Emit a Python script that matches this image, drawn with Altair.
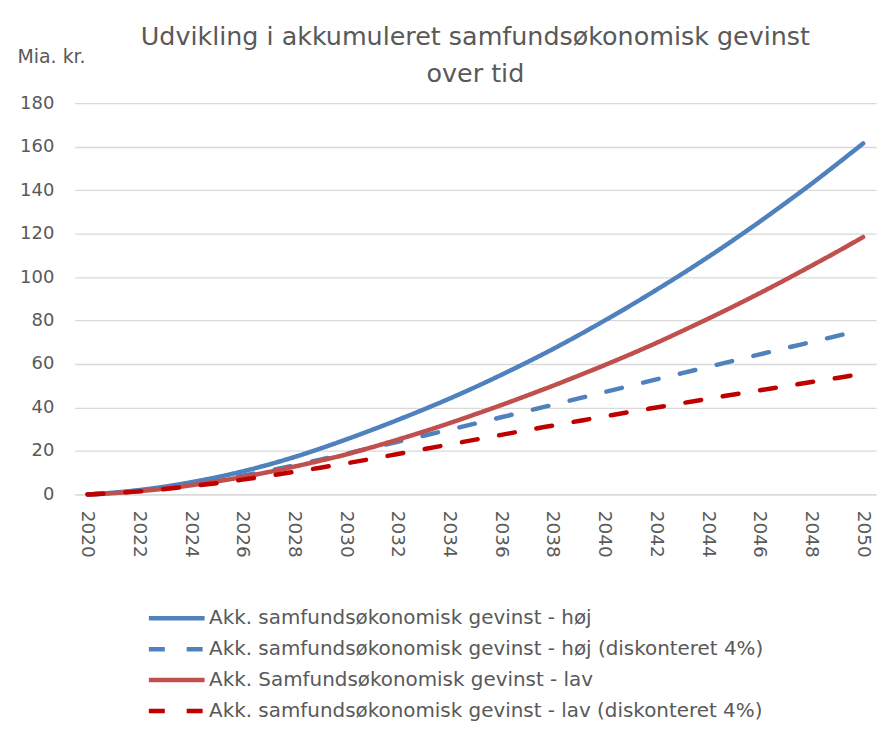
import altair as alt
import pandas as pd

years = list(range(2020, 2051))

hoej = [0, 0.8, 2.0, 3.6, 5.6, 7.9, 10.6, 13.7, 17.2, 21.1, 25.3,
        29.7, 34.3, 39.1, 44.1, 49.4, 55.0, 60.8, 66.9, 73.3, 80.0,
        86.9, 94.1, 101.5, 109.2, 117.2, 125.5, 134.1, 142.9, 152.1, 161.5]

hoej_disk = [0, 0.74, 1.80, 3.17, 4.81, 6.62, 8.67, 10.93, 13.39, 16.02, 18.75,
             21.49, 24.26, 27.02, 29.80, 32.62, 35.49, 38.35, 41.24, 44.16, 47.10,
             50.01, 52.92, 55.80, 58.68, 61.56, 64.44, 67.31, 70.12, 72.95, 75.73]

lav = [0, 0.6, 1.5, 2.7, 4.2, 6.0, 8.0, 10.3, 12.8, 15.5, 18.4,
       21.7, 25.2, 28.9, 32.8, 36.9, 41.1, 45.5, 50.0, 54.7, 59.5,
       64.5, 69.7, 75.2, 80.8, 86.6, 92.6, 98.8, 105.2, 111.7, 118.4]

lav_disk = [0, 0.6, 1.4, 2.5, 3.8, 5.2, 6.8, 8.6, 10.4, 12.3, 14.3,
            16.4, 18.6, 20.8, 23.0, 25.2, 27.4, 29.6, 31.7, 33.8, 35.9,
            38.0, 40.0, 42.0, 44.0, 46.0, 47.9, 49.8, 51.7, 53.6, 55.5]

series_names = [
    "Akk. samfundsøkonomisk gevinst - høj",
    "Akk. samfundsøkonomisk gevinst - høj (diskonteret 4%)",
    "Akk. Samfundsøkonomisk gevinst - lav",
    "Akk. samfundsøkonomisk gevinst - lav (diskonteret 4%)",
]
series_values = [hoej, hoej_disk, lav, lav_disk]
colors = ["#4F81BD", "#4F81BD", "#C0504D", "#C00000"]
dashes = [[1, 0], [16, 22], [1, 0], [16, 22]]

rows = []
for name, vals in zip(series_names, series_values):
    for yr, v in zip(years, vals):
        rows.append({"year": yr, "value": v, "series": name})
df = pd.DataFrame(rows)

FONT = "DejaVu Sans"
GREY = "#595959"

x_enc = alt.X("year:Q",
              scale=alt.Scale(domain=[2019.5, 2050.5], nice=False, zero=False),
              axis=alt.Axis(values=list(range(2020, 2051, 2)), format="d",
                            labelAngle=90, labelFontSize=18.5, labelColor=GREY,
                            labelFont=FONT, labelPadding=16, grid=False,
                            ticks=False, domain=True, domainColor="#D9D9D9",
                            domainWidth=1.3, title=None))
y_enc = alt.Y("value:Q",
              scale=alt.Scale(domain=[0, 180], nice=False),
              axis=alt.Axis(values=list(range(0, 181, 20)), labelFontSize=18,
                            labelColor=GREY, labelFont=FONT, labelPadding=21,
                            grid=True, gridColor="#D9D9D9", gridWidth=1.3,
                            ticks=False, domain=False,
                            title="Mia. kr.", titleAngle=0, titleAlign="left",
                            titleBaseline="middle", titleX=-58, titleY=-47,
                            titleFont=FONT, titleFontSize=19,
                            titleFontWeight="normal", titleColor=GREY))
color_enc = alt.Color("series:N",
                      scale=alt.Scale(domain=series_names, range=colors),
                      legend=alt.Legend(title=None, orient="none",
                                        legendX=86, legendY=501,
                                        direction="vertical",
                                        symbolType="M-2,0H2", symbolSize=784,
                                        symbolStrokeWidth=4.5,
                                        symbolFillColor="transparent",
                                        labelFontSize=20, labelColor=GREY,
                                        labelFont=FONT, labelLimit=800,
                                        rowPadding=4, labelOffset=16,
                                        padding=0))
dash_enc = alt.StrokeDash("series:N",
                          scale=alt.Scale(domain=series_names, range=dashes),
                          legend=None)

layers = []
for name in series_names:
    layers.append(
        alt.Chart(df)
        .transform_filter(alt.datum.series == name)
        .mark_line(strokeWidth=4.5, strokeCap="round", interpolate="monotone")
        .encode(x=x_enc, y=y_enc, color=color_enc, strokeDash=dash_enc)
    )

chart = (
    alt.layer(*layers)
    .properties(
        width=805,
        height=393,
        title=alt.TitleParams(
            text=["Udvikling i akkumuleret samfundsøkonomisk gevinst", "over tid"],
            font=FONT, fontSize=25.5, fontWeight="normal", color=GREY,
            anchor="middle", lineHeight=37, offset=10, dy=50,
        ),
        autosize=alt.AutoSizeParams(type="none"),
        padding={"left": 67, "top": 94, "right": 10, "bottom": 235},
        background="white",
    )
    .configure_view(stroke=None)
)

chart.save("out.html", embed_options={"renderer": "svg", "actions": False})
